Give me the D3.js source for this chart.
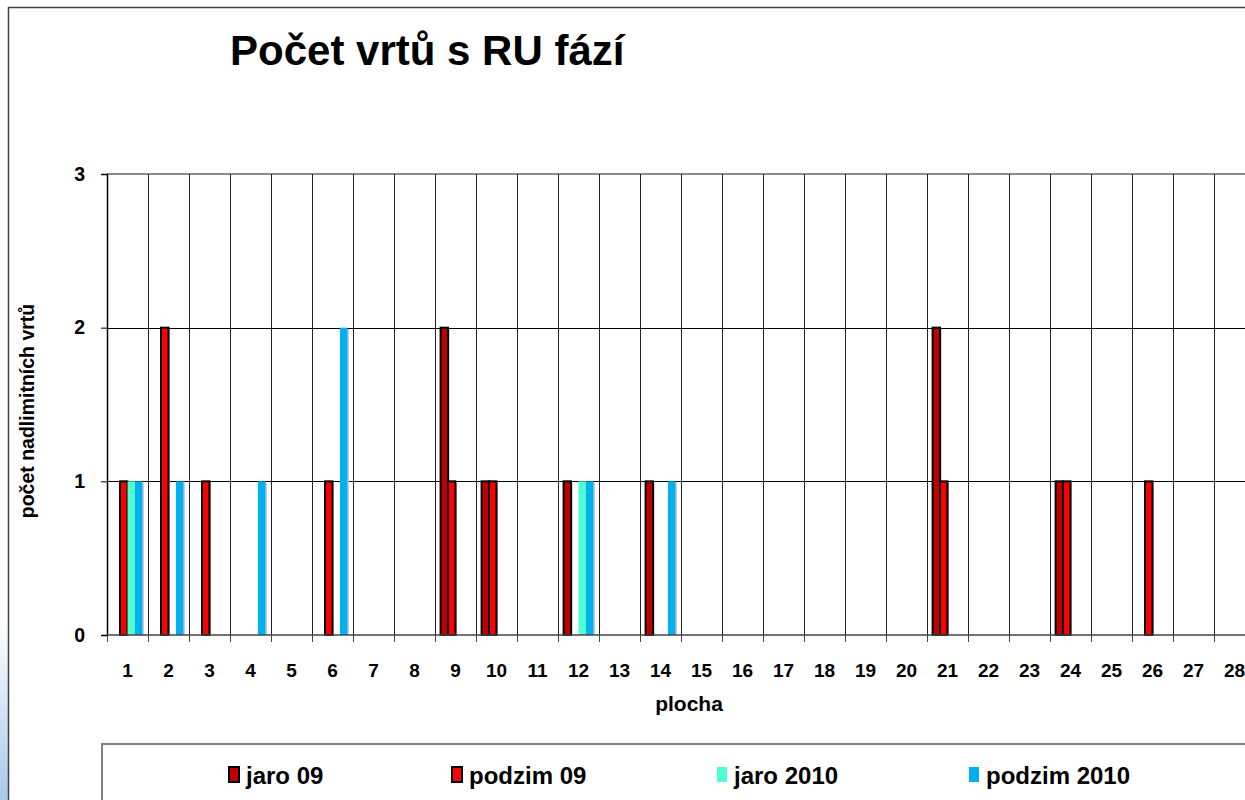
<!DOCTYPE html>
<html><head><meta charset="utf-8">
<script src="https://cdn.jsdelivr.net/npm/d3@7"></script>
<style>body{margin:0;background:#fff;}svg{display:block;font-family:"Liberation Sans",Arial,sans-serif;font-weight:bold;}</style>
</head><body>
<script>
const categories = d3.range(1, 29).map(String);
const seriesNames = ["jaro 09", "podzim 09", "jaro 2010", "podzim 2010"];
const jaro09     = [0,0,0,0,0,0,0,0,2,1,0,1,0,1,0,0,0,0,0,0,2,0,0,1,0,0,0,0];
const podzim09   = [1,2,1,0,0,1,0,0,1,1,0,0,0,0,0,0,0,0,0,0,1,0,0,1,0,1,0,0];
const jaro2010   = [1,0,0,0,0,0,0,0,0,0,0,1,0,0,0,0,0,0,0,0,0,0,0,0,0,0,0,0];
const podzim2010 = [1,1,0,1,0,2,0,0,0,0,0,1,0,1,0,0,0,0,0,0,0,0,0,0,0,0,0,0];
const yTicks = [0, 1, 2, 3];
const seriesValues = [jaro09, podzim09, jaro2010, podzim2010];
const colors = ["#C00000", "#FF0000", "#50FFD0", "#00B0F0"];
const borders = ["#000", "#000", "none", "none"];

const W = 1245, H = 800;
const svg = d3.select("body").append("svg").attr("width", W).attr("height", H);

const defs = svg.append("defs");
const g1 = defs.append("linearGradient").attr("id","bg").attr("x1",0).attr("y1",0).attr("x2",0).attr("y2",1);
g1.append("stop").attr("offset","0%").attr("stop-color","#fff");
g1.append("stop").attr("offset","100%").attr("stop-color","#a9c7ea");
svg.append("rect").attr("x",0).attr("y",620).attr("width",8).attr("height",180).attr("fill","url(#bg)");

svg.append("rect").attr("x",8.5).attr("y",7.5).attr("width",1300).attr("height",900)
  .attr("fill","#fff").attr("stroke","#404040").attr("stroke-width",1.5);

const pL = 107, pR = 1255, pT = 174, pB = 635;
const x = d3.scaleBand().domain(categories).range([pL, pR]).padding(0);
const xs = d3.scaleBand().domain(seriesNames).range([0, x.bandwidth()]).paddingInner(0).paddingOuter(0.75);
const y = d3.scaleLinear().domain([0, 3]).range([pB, pT]);

svg.append("text").attr("x", 230).attr("y", 65).attr("font-size", 42).attr("fill","#000").text("Počet vrtů s RU fází");

svg.append("g").selectAll("line").data(yTicks.filter(d => d > 0 && d < 3)).join("line")
  .attr("x1", pL).attr("x2", pR).attr("y1", d => Math.round(y(d)) + 0.5).attr("y2", d => Math.round(y(d)) + 0.5)
  .attr("stroke", "#000").attr("stroke-width", 1);
svg.append("line").attr("x1", pL).attr("x2", pR).attr("y1", y(3)).attr("y2", y(3)).attr("stroke","#8c8c8c").attr("stroke-width",2);

const bounds = categories.map(c => x(c)).concat([pR]);
svg.append("g").selectAll("line").data(bounds.slice(1)).join("line")
  .attr("x1", d => Math.round(d) + 0.5).attr("x2", d => Math.round(d) + 0.5).attr("y1", pT).attr("y2", pB)
  .attr("stroke", "#222").attr("stroke-width", 1);

const barData = [];
seriesValues.forEach((vals, si) => vals.forEach((v, ci) => { if (v > 0) barData.push({s: si, c: categories[ci], v}); }));
const bars = svg.append("g");
bars.selectAll("rect.sh").data(barData).join("rect").attr("class","sh")
  .attr("x", d => x(d.c) + xs(seriesNames[d.s]) + 1.5).attr("y", d => y(d.v) + 1.5)
  .attr("width", xs.bandwidth()).attr("height", d => y(0) - y(d.v) - 1.5).attr("fill", "#c8c8c8");
bars.selectAll("rect.b").data(barData).join("rect").attr("class","b")
  .attr("x", d => x(d.c) + xs(seriesNames[d.s])).attr("y", d => y(d.v))
  .attr("width", xs.bandwidth()).attr("height", d => y(0) - y(d.v))
  .attr("fill", d => colors[d.s]).attr("stroke", d => borders[d.s]).attr("stroke-width", 2);

const yAxis = svg.append("g").attr("transform", `translate(${pL},0)`)
  .call(d3.axisLeft(y).tickValues(yTicks).tickFormat(d3.format("d")).tickSize(6).tickPadding(16));
yAxis.select(".domain").attr("stroke","#000").attr("stroke-width",1.5);
yAxis.selectAll(".tick line").attr("stroke","#000");
yAxis.selectAll("text").attr("font-size", 19.5).attr("font-family","Liberation Sans, Arial, sans-serif").attr("font-weight","bold").attr("fill","#000");

const xAxis = svg.append("g").attr("transform", `translate(0,${pB})`)
  .call(d3.axisBottom(x).tickSize(0).tickPadding(0));
xAxis.select(".domain").remove();
xAxis.selectAll("text").attr("font-size", 19).attr("font-family","Liberation Sans, Arial, sans-serif").attr("font-weight","bold").attr("fill","#000")
  .attr("dy", null).attr("y", 42);
svg.append("line").attr("x1", pL).attr("x2", pR).attr("y1", pB).attr("y2", pB).attr("stroke","#444").attr("stroke-width",1.5);
svg.append("g").selectAll("line").data(bounds).join("line")
  .attr("x1", d => Math.round(d) + 0.5).attr("x2", d => Math.round(d) + 0.5).attr("y1", pB).attr("y2", pB + 7)
  .attr("stroke","#444").attr("stroke-width",1);

svg.append("text").attr("x", 689).attr("y", 711).attr("text-anchor","middle").attr("font-size", 21).text("plocha");
svg.append("text").attr("transform", "translate(34,411) rotate(-90)").attr("text-anchor","middle").attr("font-size", 19.5).text("počet nadlimitních vrtů");

svg.append("rect").attr("x", 102).attr("y", 744).attr("width", 1300).attr("height", 200)
  .attr("fill","#fff").attr("stroke","#808080").attr("stroke-width",2);
const legendX = [229, 452, 717, 969];
const lg = svg.append("g").selectAll("g").data(seriesNames).join("g")
  .attr("transform", (d, i) => `translate(${legendX[i]},767)`);
lg.append("rect").attr("width", 10).attr("height", 15)
  .attr("fill", (d, i) => colors[i]).attr("stroke", (d, i) => borders[i]).attr("stroke-width", 2);
lg.append("text").attr("x", 17).attr("y", 17).attr("font-size", 24).text(d => d);
</script>
</body></html>
